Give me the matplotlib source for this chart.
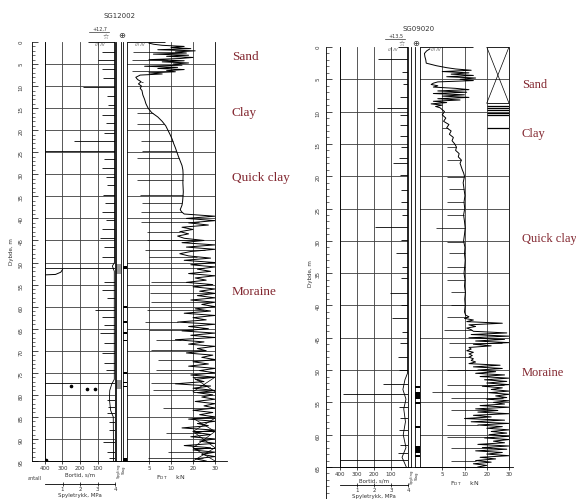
import numpy as np
import matplotlib.pyplot as plt
from matplotlib.lines import Line2D
from matplotlib.ticker import MultipleLocator, FixedLocator

W, H = 576, 499
GRID = '#3c3c3c'
SOIL_COLOR = '#82262f'

soil_names = ['Sand', 'Clay', 'Quick clay', 'Moraine']

# ---------------- SG12002 ----------------
s1_sand_start, s1_sand_step = 0.25, 0.25
s1_sand_val = [5, 6, 8, 16, 10, 19, 7, 21, 12, 17,
               6, 18, 9, 20, 14, 5, 16, 8, 18, 11,
               15, 4, 13, 7, 16, 9, 12, 5, 8]
s1_clay_depth = [7.5, 8, 8.5, 9, 9.5, 10, 10.5, 11,
                 12, 13, 14, 15, 16, 17, 18, 19, 20, 21, 22, 23, 24, 25, 26, 27, 28, 29, 30,
                 32, 34, 36, 37, 38, 38.5, 39]
s1_clay_val = [3.0, 2.0, 2.4, 3.2, 2.6, 3.3, 3.0, 3.4,
               3.6, 4.0, 4.3, 4.8, 5.6, 7.0, 8.0, 8.8, 9.3, 9.8, 10.5, 11.2, 12.0, 12.7, 13.4, 14.2, 15.0, 15.4, 15.5,
               15.4, 15.6, 15.3, 15.0, 14.2, 14.8, 16.0]
s1_mor_start, s1_mor_step = 39.5, 0.5
s1_mor_val = [30, 17, 30, 18, 27, 15, 20, 14, 18, 13, 16, 25,
              15, 30, 17, 30, 19, 14, 18, 28, 16, 30,
              19, 30, 22, 28, 18, 30, 21, 26, 17, 29,
              20, 30, 23, 30, 22, 30, 19, 30, 24, 30,
              21, 28, 16, 30, 20, 26, 13, 30, 18, 27,
              15, 30, 19, 30, 12, 25, 18, 30, 22, 26,
              17, 29, 24, 30, 20, 27, 18, 30, 23, 30,
              19, 30, 21, 25, 12, 28, 20, 30, 22, 29,
              24, 30, 21, 30, 25, 30, 20, 29, 23, 30,
              18, 30, 22, 27, 15, 30, 21, 28, 19, 30,
              23, 30, 16, 28, 20, 30, 24, 30, 21, 26]
s1_rod_depth = [2.2, 4.1, 6.6, 9.0, 16.2, 18.6, 22.4, 24.7, 26.3, 31.3,
                34.7, 36.6, 38.5, 40.8, 43.0, 44.9, 47.2, 48.7, 51.3, 54.4,
                57.0, 58.9, 60.8, 63.5, 65.3, 67.6, 69.8, 72.0, 74.4, 77.4,
                78.9, 83.0, 88.7, 92.9, 94.3]
s1_rod_low = [1.4, 1.1, 1.1, 3.6, 2.2, 2.2, 3.1, 3.3, 2.2, 2.2,
              2.9, 3.5, 3.2, 3.2, 4.5, 4.5, 4.0, 5.0, 0.0, 5.5,
              5.3, 5.5, 4.5, 4.0, 5.0, 6.5, 5.5, 7.0, 6.5, 5.5,
              5.9, 8.2, 8.8, 9.4, 4.8]
s1_bt_depth = [2.3, 4.1, 6.2, 8.2, 10.3, 12.2, 14.3, 16.6, 18.3,
               20.6, 22.4, 24.7, 26.6, 28.6, 30.5, 32.4, 34.7, 36.6, 38.5,
               40.4, 42.4, 44.4, 46.5, 48.7, 51.3, 54.4, 56.2, 58.1, 60.8,
               62.4, 64.2, 66.0, 68.3, 70.5, 72.8, 74.4, 77.4, 81.2, 82.8,
               84.2, 86.2, 88.0, 90.7, 93.0, 94.3]
s1_bt_val = [75, 100, 75, 70, 185, 45, 40, 75, 50,
             65, 235, 400, 65, 75, 50, 45, 70, 55, 75,
             50, 75, 85, 65, 75, 400, 65, 75, 45, 115,
             75, 65, 85, 65, 75, 65, 50, 400, 45, 40,
             45, 35, 35, 70, 45, 35]
s1_bort_depth = [0, 50.0, 50.8, 52.0, 76.5, 77.5, 79.0, 81.0, 83.5, 85.0, 95.0]
s1_bort_val = [3, 3, 15, 4, 4, 18, 30, 32, 25, 10, 8]
s1_antall_depth = [52.8, 52.7, 52.2, 51.6]
s1_antall_val = [400, 340, 310, 300]
s1_antall_pt_depth = [77.9, 78.7, 78.7, 94.8]
s1_antall_pt_val = [250, 160, 115, 395]
s1_col1 = [(50.3, 52.6), (76.6, 78.6)]
s1_col2 = [(50.7, 51.5), (59.8, 60.4), (63.3, 63.6), (65.8, 66.1), (67.6, 67.9),
           (74.9, 75.2), (77.0, 77.3), (78.0, 78.3), (94.4, 95.0)]
s1_xbox = [(76.0, 79.3), (85.3, 88.3), (88.3, 92.0), (92.0, 95.0)]
s1_layer_lines = []
s1_ground = (155, 8.6)
s1_soil_depth = [3.4, 16.1, 30.8, 56.7]
s1_depth_labels = list(range(0, 100, 5))

# ---------------- SG09020 ----------------
s2_top_depth = [0.3, 0.6, 1.0, 1.5, 2.0, 2.5, 2.9, 3.2]
s2_top_val = [2.2, 1.5, 1.0, 1.1, 1.3, 1.4, 3.7, 6.0]
s2_sand_start, s2_sand_step = 3.4, 0.2
s2_sand_val = [8, 13, 5, 12, 7, 14, 6, 15, 9, 14,
               4, 3, 2.5, 4, 3, 8, 12, 4, 11, 3,
               10, 5, 12, 4, 9, 3, 6, 2.5, 5, 3.5, 4.5]
s2_clay_depth = [10, 10.5, 11, 11.5, 12, 12.5, 13, 13.5, 14, 14.5, 15, 15.5, 16, 16.5, 17, 17.5, 18,
                 19, 19.5, 20, 21, 22, 23, 24, 25, 26, 27, 28, 29, 30, 31, 32, 33, 34, 35, 36, 37,
                 38, 39, 40, 41]
s2_clay_val = [5.5, 5.0, 5.8, 5.3, 6.5, 6.0, 7.0, 6.6, 7.5, 7.2,
               7.8, 8.2, 8.0, 8.8, 8.6, 9.3, 9.0, 9.5, 9.8, 10.0,
               9.7, 9.9, 10.2, 9.9, 10.1, 9.8, 10.0, 10.3, 10.0, 9.8,
               10.2, 10.0, 10.3, 10.1, 9.9, 10.2, 10.0, 10.4, 10.1, 10.3, 10.0]
s2_mor_start, s2_mor_step = 41.5, 0.25
s2_mor_val = [10.5, 12, 10, 14, 11, 27, 12, 15, 11, 13,
              14, 29, 13, 30, 12, 28, 15, 30, 14, 22,
              12, 13, 11, 14, 12, 13.5, 12, 14, 13, 15,
              12, 26, 14, 27, 16, 24, 15, 28, 17,
              30, 19, 29, 20, 30, 18, 27, 22, 30, 21,
              30, 24, 29, 20, 30, 23, 28, 17, 30, 15,
              25, 16, 30, 14, 22, 10, 28, 13, 30, 16,
              27, 20, 30, 22, 29, 21, 30, 19, 30, 23,
              28, 16, 30, 18, 29, 15, 27, 20, 30, 17,
              24, 15, 22, 14, 20, 16]
s2_rod_depth = [12.6, 15.4, 17.5, 20.1, 21.9, 24.0, 26.0, 28.0, 30.2, 31.9,
                34.0, 36.0, 37.9, 39.9, 41.8, 43.8, 45.8, 48.0, 50.0, 52.3,
                53.4, 54.3, 56.2, 58.5, 60.4, 62.1, 64.0]
s2_rod_low = [4.9, 6.0, 6.0, 6.0, 6.5, 6.0, 6.0, 3.7, 6.0, 6.5,
              6.0, 6.0, 7.0, 7.0, 6.0, 5.5, 6.5, 6.5, 6.0, 6.0,
              2.7, 7.0, 7.0, 6.0, 6.0, 7.0, 7.0]
s2_bt_depth = [1.9, 3.8, 5.8, 7.7, 9.5, 10.5, 12.1, 13.8, 15.4, 17.2,
               18.0, 19.8, 22.1, 24.0, 26.0, 27.9, 29.9, 31.9, 34.0, 35.8,
               38.0, 39.9, 42.0, 44.1, 45.8, 48.0, 50.0, 52.2, 53.7, 55.7,
               57.4, 59.3, 61.6, 62.8, 63.9]
s2_bt_val = [175, 35, 30, 45, 180, 50, 45, 50, 40, 55,
             90, 47, 40, 40, 35, 195, 40, 70, 35, 40,
             105, 40, 95, 35, 45, 60, 55, 150, 380, 55,
             45, 55, 45, 60, 400]
s2_bort_depth = [0, 50.5, 51.5, 53.0, 54.5, 56.0, 58.0, 60.0, 62.0, 63.5, 65.0]
s2_bort_val = [3, 3, 18, 30, 12, 25, 15, 28, 12, 35, 10]
s2_col1 = []
s2_col2 = [(52.4, 52.7), (53.4, 54.4), (55.0, 55.2), (58.7, 58.9), (61.8, 62.8), (63.2, 63.4)]
s2_xbox = [(0.0, 8.7)]
s2_layer_lines = [9.2, 9.5, 9.8, 10.2, 10.5, 12.6]
s2_ground = (60, 13.6)
s2_soil_depth = [5.9, 13.5, 29.7, 50.5]
s2_depth_labels = list(range(0, 70, 5))


def sampled(start, step, values):
    return start + step * np.arange(len(values)), np.asarray(values, float)


def fwd(v):
    v = np.asarray(v, dtype=float)
    return np.where(v <= 10, v, 10 + (v - 10) / 2)


def inv(u):
    u = np.asarray(u, dtype=float)
    return np.where(u <= 10, u, 10 + (u - 10) * 2)


def add_px_axes(fig, x0, x1, y0, y1):
    return fig.add_axes([x0 / W, 1 - y1 / H, (x1 - x0) / W, (y1 - y0) / H])


def line_axes(fig, x0, x1, y):
    ax = fig.add_axes([x0 / W, 1 - y / H, (x1 - x0) / W, 0.0001])
    for s in ('top', 'left', 'right'):
        ax.spines[s].set_visible(False)
    ax.spines['bottom'].set_linewidth(0.6)
    ax.patch.set_visible(False)
    ax.set_yticks([])
    return ax


def build_log(name, elev, segments, rod, bt, bort, cols, xbox, layer_lines, ground, soil_depth,
              depth_labels, antall=None):
    depth = np.concatenate([s[0] for s in segments])
    val = np.concatenate([s[1] for s in segments])
    return dict(name=name, elev=elev, fdt_depth=depth, fdt_val=val,
                rod_depth=rod[0], rod_low=rod[1], bt_depth=bt[0], bt_val=bt[1],
                bort_depth=bort[0], bort_val=bort[1], col1=cols[0], col2=cols[1],
                xbox=xbox, layer_lines=layer_lines, ground=ground,
                soil_depth=soil_depth, depth_labels=depth_labels, antall=antall)


def draw_log(fig, lay, log):
    top, bot, dmax = lay['top'], lay['bottom'], lay['dmax']
    ppm = (bot - top) / dmax
    lw_grid = 0.6

    # depth scale
    x = lay['depth_x']
    axd = add_px_axes(fig, x, x + 1, top, top + lay['axis_max'] * ppm)
    axd.set_ylim(lay['axis_max'], 0)
    axd.set_xticks([])
    for s in ('top', 'right', 'bottom'):
        axd.spines[s].set_visible(False)
    axd.spines['left'].set_linewidth(0.6)
    axd.patch.set_visible(False)
    axd.yaxis.set_major_locator(FixedLocator(log['depth_labels']))
    axd.yaxis.set_minor_locator(MultipleLocator(1))
    axd.tick_params(axis='y', which='major', direction='in', length=4, width=0.5,
                    pad=lay['depth_pad'], labelrotation=90, labelsize=4, labelcolor='#333')
    axd.tick_params(axis='y', which='minor', direction='in', length=2, width=0.4)
    axd.set_ylabel('Dybde, m', fontsize=4, color='#333', labelpad=lay['ylabel_pad'])

    # bortid panel
    bx0, bx1 = lay['bort']
    axb = add_px_axes(fig, bx0, bx1, top, bot)
    axb.set_xlim(400, 0)
    axb.set_ylim(dmax, 0)
    axb.set_xticks([400, 300, 200, 100])
    axb.set_yticks(np.arange(5, dmax, 5))
    axb.tick_params(axis='y', length=0, labelleft=False)
    axb.tick_params(axis='x', direction='out', length=2, width=0.5, pad=1.5,
                    labelsize=4, labelcolor='#333')
    axb.grid(True, color=GRID, lw=lw_grid)
    axb.spines['top'].set_visible(False)
    for s in ('left', 'right', 'bottom'):
        axb.spines[s].set_linewidth(0.6)
    axb.set_xlabel('Bortid, s/m', fontsize=4, color='#333', labelpad=1.2)
    axb.hlines(log['bt_depth'], log['bt_val'], 0, color='k', lw=0.6)
    axb.plot(log['bort_val'], log['bort_depth'], color='k', lw=0.6)
    axb.hlines(0, log['ground'][0], 0, color='k', lw=0.6)
    if log['antall'] is not None:
        ad, av, pd_, pv = log['antall']
        axb.plot(av, ad, color='k', lw=0.7)
        axb.plot(pv, pd_, 'o', color='k', ms=1.6)

    # spyling / slag columns
    for key, color in (('col1', '#9a9a9a'), ('col2', 'k')):
        c0, c1 = lay[key]
        axc = add_px_axes(fig, c0, c1, top, bot)
        axc.set_xlim(0, 1)
        axc.set_ylim(dmax, 0)
        axc.set_xticks([])
        axc.set_yticks([])
        axc.spines['top'].set_visible(False)
        for s in ('left', 'right', 'bottom'):
            axc.spines[s].set_linewidth(0.6)
        for a, b in log[key]:
            axc.axhspan(a, b, color=color, lw=0)
    fig.text((lay['col1'][0] + lay['col2'][1]) / 2 / W, 1 - (bot + 2) / H, 'Spyling\nSlag',
             rotation=90, fontsize=2.8, ha='center', va='top', color='#333')

    # F_DT panel
    fx0, fx1 = lay['fdt']
    axf = add_px_axes(fig, fx0, fx1, top, bot)
    axf.set_xscale('function', functions=(fwd, inv))
    axf.set_xlim(0, 30)
    axf.set_ylim(dmax, 0)
    axf.set_xticks([5, 10, 20, 30])
    axf.set_xticklabels(['5', '10', '20', '30'])
    axf.set_yticks(np.arange(5, dmax, 5))
    axf.tick_params(axis='y', length=0, labelleft=False)
    axf.tick_params(axis='x', direction='out', length=2, width=0.5, pad=1.5,
                    labelsize=4, labelcolor='#333')
    axf.grid(True, color=GRID, lw=lw_grid)
    axf.spines['top'].set_visible(False)
    for s in ('left', 'right', 'bottom'):
        axf.spines[s].set_linewidth(0.6)
    axf.set_xlabel(r'F$_{\rm DT}$     kN', fontsize=4.5, color='#333', labelpad=1.5)

    depth, val = log['fdt_depth'], log['fdt_val']
    axf.plot(val, depth, color='k', lw=0.7)
    axf.hlines(log['rod_depth'], log['rod_low'],
               np.interp(log['rod_depth'], depth, val), color='k', lw=0.5)
    axf.hlines(0, 0, log['ground'][1], color='k', lw=0.6)
    for a, b in log['xbox']:
        axf.plot([20, 30], [a, b], color='k', lw=0.5, zorder=3)
        axf.plot([20, 30], [b, a], color='k', lw=0.5, zorder=3)
        axf.hlines([a, b], 20, 30, color='k', lw=0.6, zorder=3)
    if log['layer_lines']:
        axf.hlines(log['layer_lines'], 20, 30, color='k', lw=0.9)

    for name, d in zip(soil_names, log['soil_depth']):
        axf.text(lay['soil_x'], d, name, transform=axf.get_yaxis_transform(),
                 fontsize=lay['soil_size'], family='Liberation Serif', color=SOIL_COLOR,
                 ha='left', va='center')

    # bottom frame line
    ln = line_axes(fig, lay['depth_x'], lay['frame_end'], bot)
    ln.set_xticks([])

    # flushing pressure scale
    axm = line_axes(fig, bx0, bx1, lay['mpa_y'])
    axm.set_xlim(0, 4)
    axm.set_xticks([1, 2, 3, 4])
    axm.tick_params(axis='x', direction='inout', length=3, width=0.5, pad=0.6,
                    labelsize=4, labelcolor='#333')
    axm.set_xlabel('Spyletrykk, MPa', fontsize=4, color='#333', labelpad=0.6)
    if log['antall'] is not None:
        fig.text(28 / W, 1 - 479 / H, 'antall', fontsize=3.5, color='#333', va='center')

    # header: borehole id, elevation, symbols
    tx, ty = lay['title_xy']
    fig.text(tx / W, 1 - ty / H, log['name'], fontsize=5, color='#333', ha='center', va='center')
    ex, ey = lay['elev_xy']
    fig.text(ex / W, 1 - ey / H, log['elev'], fontsize=3.5, color='#333', ha='center', va='center')
    fig.add_artist(Line2D([(ex - 11) / W, (ex + 9) / W], [1 - (ey + 3) / H] * 2,
                          color='#333', lw=0.5))
    fig.text((ex + 6) / W, 1 - (ey + 8) / H, '\u2606', fontsize=5, color='#333',
             ha='center', va='center')
    fig.text(lay['sym_x'] / W, 1 - (ey + 7) / H, '\u2295', fontsize=6, color='#333',
             ha='center', va='center')
    for hx in lay['hatch_x']:
        fig.text(hx / W, 1 - (top + 3) / H, '/// ///', fontsize=3, color='#333',
                 ha='center', va='center')


plt.rcParams['font.family'] = ['DejaVu Sans']
fig = plt.figure(figsize=(W / 100, H / 100), dpi=100)

log1 = build_log('SG12002', '+12,7',
                 [sampled(s1_sand_start, s1_sand_step, s1_sand_val),
                  (np.asarray(s1_clay_depth, float), np.asarray(s1_clay_val, float)),
                  sampled(s1_mor_start, s1_mor_step, s1_mor_val)],
                 (s1_rod_depth, s1_rod_low), (s1_bt_depth, s1_bt_val),
                 (s1_bort_depth, s1_bort_val), (s1_col1, s1_col2),
                 s1_xbox, s1_layer_lines, s1_ground, s1_soil_depth, s1_depth_labels,
                 antall=(s1_antall_depth, s1_antall_val, s1_antall_pt_depth, s1_antall_pt_val))
log2 = build_log('SG09020', '+13,5',
                 [(np.asarray(s2_top_depth, float), np.asarray(s2_top_val, float)),
                  sampled(s2_sand_start, s2_sand_step, s2_sand_val),
                  (np.asarray(s2_clay_depth, float), np.asarray(s2_clay_val, float)),
                  sampled(s2_mor_start, s2_mor_step, s2_mor_val)],
                 (s2_rod_depth, s2_rod_low), (s2_bt_depth, s2_bt_val),
                 (s2_bort_depth, s2_bort_val), (s2_col1, s2_col2),
                 s2_xbox, s2_layer_lines, s2_ground, s2_soil_depth, s2_depth_labels)

layout1 = dict(depth_x=32, top=42, bottom=461, dmax=95, axis_max=95,
               bort=(45, 115), col1=(116, 121), col2=(123, 127), fdt=(127, 215),
               frame_end=227, mpa_y=484, soil_x=1.19, soil_size=9.5, depth_pad=6, ylabel_pad=3,
               title_xy=(120, 16), elev_xy=(100, 29), sym_x=122, hatch_x=(100, 140))
layout2 = dict(depth_x=326, top=47, bottom=467, dmax=65, axis_max=70,
               bort=(340, 408), col1=(408, 411), col2=(415, 420), fdt=(420, 509),
               frame_end=513, mpa_y=485, soil_x=1.145, soil_size=9, depth_pad=4, ylabel_pad=2,
               title_xy=(419, 29), elev_xy=(396, 36), sym_x=416, hatch_x=(393, 436))

draw_log(fig, layout1, log1)
draw_log(fig, layout2, log2)

fig.savefig('out.png', dpi=100, facecolor='white')
